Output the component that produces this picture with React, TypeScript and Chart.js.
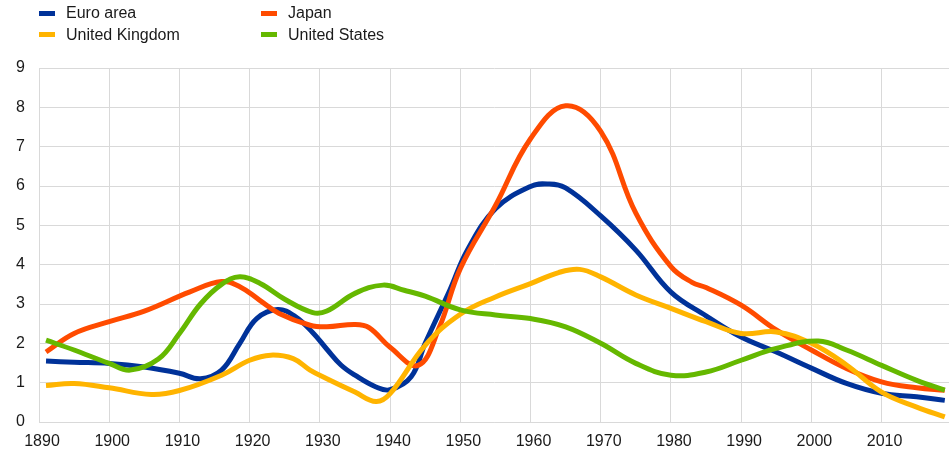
import React, { useEffect, useRef } from "react";
import { Chart, registerables } from "chart.js";

Chart.register(...registerables);

const seriesNames = ["Euro area", "Japan", "United Kingdom", "United States"];
const seriesColors = ["#003299", "#FF4B00", "#FFB400", "#65B800"];

const euroYears = [1891, 1895, 1900, 1905, 1910, 1913, 1916, 1918.6, 1921, 1924, 1926.5, 1929, 1931, 1933, 1935, 1938, 1940, 1943, 1945, 1948.5, 1951, 1955, 1960, 1962.5, 1965, 1970, 1975, 1980, 1985, 1990, 1995, 2000, 2005, 2010, 2015, 2019];
const euroValues = [1.55, 1.52, 1.49, 1.4, 1.24, 1.1, 1.32, 2.0, 2.63, 2.86, 2.68, 2.27, 1.85, 1.45, 1.19, 0.89, 0.82, 1.15, 2.0, 3.35, 4.37, 5.42, 5.99, 6.05, 5.95, 5.24, 4.37, 3.3, 2.7, 2.16, 1.78, 1.37, 0.98, 0.73, 0.64, 0.55];

const japanYears = [1891, 1895, 1900, 1905, 1911.5, 1916, 1918.6, 1921.4, 1924.2, 1928.6, 1931, 1935, 1937, 1940, 1944, 1947, 1950, 1955, 1960, 1965, 1970, 1975, 1980, 1983, 1985, 1990, 1995, 2000, 2005, 2010, 2015, 2019];
const japanValues = [1.78, 2.25, 2.55, 2.82, 3.31, 3.57, 3.44, 3.1, 2.76, 2.46, 2.42, 2.48, 2.4, 1.9, 1.44, 2.4, 3.9, 5.5, 7.2, 8.04, 7.39, 5.31, 3.95, 3.55, 3.42, 2.97, 2.34, 1.83, 1.36, 1.02, 0.87, 0.81];

const ukYears = [1891, 1895, 1900, 1906, 1910, 1916, 1920, 1923, 1926.2, 1928.6, 1931, 1935, 1938, 1940, 1945, 1950, 1955, 1960, 1964, 1967, 1970, 1975, 1980, 1985, 1990, 1995, 2000, 2005, 2010, 2015, 2019];
const ukValues = [0.93, 0.98, 0.87, 0.7, 0.8, 1.19, 1.57, 1.7, 1.61, 1.32, 1.1, 0.76, 0.52, 0.72, 1.95, 2.74, 3.18, 3.52, 3.8, 3.88, 3.69, 3.23, 2.89, 2.55, 2.25, 2.29, 2.0, 1.45, 0.76, 0.38, 0.13];

const usYears = [1891, 1895, 1900, 1903, 1907, 1910, 1913, 1916, 1918.6, 1921.5, 1925, 1929, 1931, 1935, 1939, 1942, 1945, 1950, 1955, 1960, 1965, 1970, 1975, 1980, 1985, 1990, 1995, 2001, 2005, 2010, 2015, 2019];
const usValues = [2.08, 1.83, 1.49, 1.32, 1.6, 2.25, 3.0, 3.5, 3.69, 3.52, 3.12, 2.78, 2.82, 3.27, 3.48, 3.35, 3.2, 2.85, 2.72, 2.63, 2.42, 2.0, 1.49, 1.19, 1.27, 1.57, 1.87, 2.06, 1.83, 1.44, 1.06, 0.81];

const xMin = 1890;
const xMax = 2019.6;
const yMin = 0;
const yMax = 9;

const seriesYears = [euroYears, japanYears, ukYears, usYears];
const seriesValues = [euroValues, japanValues, ukValues, usValues];

const FONT = "'Liberation Sans', Arial, sans-serif";

export default function App() {
  const ref = useRef<HTMLCanvasElement | null>(null);

  useEffect(() => {
    if (!ref.current) return;
    const datasets = seriesNames.map((name, i) => ({
      label: name,
      data: seriesYears[i].map((yr, j) => ({ x: yr, y: seriesValues[i][j] })),
      borderColor: seriesColors[i],
      backgroundColor: seriesColors[i],
      borderWidth: 5,
      pointRadius: 0,
      pointHoverRadius: 0,
      fill: false,
      tension: 0.4,
      order: 4 - i,
    }));
    const chart = new Chart(ref.current, {
      type: "line",
      data: { datasets },
      options: {
        animation: false,
        responsive: false,
        maintainAspectRatio: false,
        devicePixelRatio: 1,
        layout: { padding: { top: 68, left: 0, right: 0, bottom: 0 } },
        plugins: { legend: { display: false }, tooltip: { enabled: false } },
        scales: {
          x: {
            type: "linear",
            min: xMin,
            max: xMax,
            afterFit: (s: any) => {
              s.height = 30;
            },
            grid: { color: "#d9d9d9", lineWidth: 1, drawTicks: false },
            border: { color: "#d9d9d9", width: 1 },
            ticks: {
              stepSize: 10,
              includeBounds: false,
              padding: 10,
              labelOffset: 3,
              maxRotation: 0,
              autoSkip: false,
              color: "#1a1a1a",
              font: { family: FONT, size: 16 },
              callback: (v: any) => String(v),
            },
          },
          y: {
            min: yMin,
            max: yMax,
            afterFit: (s: any) => {
              s.width = 39;
            },
            grid: { color: "#d9d9d9", lineWidth: 1, drawTicks: false },
            border: { color: "#d9d9d9", width: 1 },
            ticks: {
              stepSize: 1,
              padding: 14,
              color: "#1a1a1a",
              font: { family: FONT, size: 16 },
            },
          },
        },
      },
    });
    return () => chart.destroy();
  }, []);

  const legendPos = [
    { left: 39, top: 13 },
    { left: 261, top: 13 },
    { left: 39, top: 34.5 },
    { left: 261, top: 34.5 },
  ];

  return (
    <div style={{ position: "fixed", left: 0, top: 0, width: 949, height: 452, background: "#fff" }}>
      <canvas ref={ref} width={949} height={452} style={{ position: "absolute", left: 0, top: 0, width: 949, height: 452 }} />
      {seriesNames.map((name, i) => (
        <div
          key={name}
          style={{
            position: "absolute",
            left: legendPos[i].left,
            top: legendPos[i].top - 10,
            height: 20,
            display: "flex",
            alignItems: "center",
            fontFamily: FONT,
            fontSize: 16,
            color: "#1a1a1a",
            whiteSpace: "nowrap",
          }}
        >
          <span style={{ display: "inline-block", width: 16, height: 5, background: seriesColors[i], marginRight: 11 }} />
          <span>{name}</span>
        </div>
      ))}
    </div>
  );
}
